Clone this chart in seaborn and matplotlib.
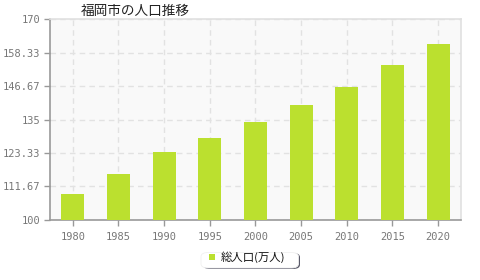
import matplotlib
matplotlib.use("Agg")
import matplotlib.pyplot as plt
import seaborn as sns
import pandas as pd
from matplotlib.patches import FancyBboxPatch

years = ["1980", "1985", "1990", "1995", "2000", "2005", "2010", "2015", "2020"]
population = [108.9, 116.0, 123.7, 128.5, 134.1, 140.1, 146.4, 153.9, 161.2]
ytick_vals = [100, 111.67, 123.33, 135, 146.67, 158.33, 170]
ytick_labels = ["100", "111.67", "123.33", "135", "146.67", "158.33", "170"]
title = "福岡市の人口推移"
series_name = "総人口(万人)"

sns.set_style("white")
plt.rcParams['font.family'] = ['Noto Sans CJK JP', 'DejaVu Sans']

df = pd.DataFrame({"year": years, "pop": population})

fig = plt.figure(figsize=(4.8, 2.8), dpi=100)
ax = fig.add_axes([50/480, 1-220/280, 411/480, 201/280])
ax.set_facecolor("#f9f9f9")

sns.barplot(data=df, x="year", y="pop", color="#bbe02f", width=0.5, ax=ax,
            saturation=1, edgecolor="none", zorder=3)

ax.set_ylim(100, 170)
ax.set_xlim(-0.5, 8.5)
ax.set_yticks(ytick_vals)
ax.set_yticklabels(ytick_labels)
ax.set_xlabel("")
ax.set_ylabel("")

ax.grid(True, axis="both", color="#e2e2e2", linestyle=(0, (4, 3)), linewidth=1, zorder=0)
ax.set_axisbelow(True)

for s in ["top", "right"]:
    ax.spines[s].set_color("#e0e0e0")
    ax.spines[s].set_linewidth(1.2)
for s in ["left", "bottom"]:
    ax.spines[s].set_color("#999999")
    ax.spines[s].set_linewidth(1.2)

ax.tick_params(axis="both", which="both", length=4, width=1, color="#999999",
               labelcolor="#777777", labelsize=7.5, direction="out", bottom=True, left=True)
for lab in ax.get_xticklabels() + ax.get_yticklabels():
    lab.set_family(['DejaVu Sans Mono', 'DejaVu Sans'])
ax.tick_params(axis="x", pad=5)
ax.tick_params(axis="y", pad=3)

fig.text(81/480, 1-11/280, title, fontsize=9.8, color="#222222", ha="left", va="center")

# legend
shadow = FancyBboxPatch((203/480, 1-269/280), 97/480, 16/280,
                        boxstyle="round,pad=0,rounding_size=0.015",
                        transform=fig.transFigure, facecolor="#5a5a6a",
                        edgecolor="none", zorder=1)
fig.patches.append(shadow)
box = FancyBboxPatch((201/480, 1-268/280), 97.5/480, 15.5/280,
                     boxstyle="round,pad=0,rounding_size=0.015",
                     transform=fig.transFigure, facecolor="white",
                     edgecolor="#f0f0f0", linewidth=0.6, zorder=2)
fig.patches.append(box)
fig.patches.append(plt.Rectangle((209/480, 1-260/280), 6/480, 6/280,
                                 transform=fig.transFigure, facecolor="#bbe02f",
                                 edgecolor="none", zorder=3))
fig.text(221/480, 1-257.5/280, series_name, fontsize=8.2, color="#111111",
         ha="left", va="center")

fig.savefig("out.png", dpi=100)
